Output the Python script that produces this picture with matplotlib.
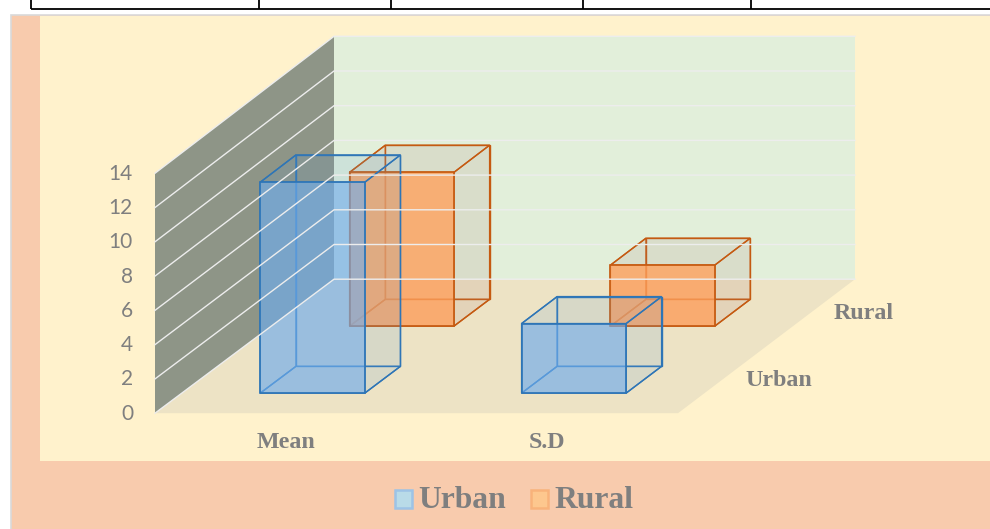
import matplotlib
matplotlib.use("Agg")
import matplotlib.pyplot as plt
from matplotlib.patches import Polygon, Rectangle

categories = ["Mean", "S.D"]
series_names = ["Urban", "Rural"]
urban_values = [12.28, 4.05]
rural_values = [8.9, 3.53]
y_ticks = [0, 2, 4, 6, 8, 10, 12, 14]
table_columns = [31, 259, 391, 583, 751]

GREY = "#7F7F7F"
BAR_WIDTH = 0.4
BAR_DEPTH = 0.2


# oblique view of the chart box: category, depth (0 front, 1 back), value -> pixels
def project(cat, depth, val):
    x = 155 + 261.5 * cat + (179 - cat) * depth
    y = 413.2 - 134 * depth - val * (17.14 + 0.21 * depth)
    return (x, y)


def face(ax, points, **kwargs):
    ax.add_patch(Polygon([project(*p) for p in points], closed=True, **kwargs))


def draw_bar(ax, idx, series_idx, val, style):
    x0 = idx + 0.5 - BAR_WIDTH / 2
    x1 = idx + 0.5 + BAR_WIDTH / 2
    d0 = 0.25 + 0.5 * series_idx - BAR_DEPTH / 2
    d1 = d0 + BAR_DEPTH
    edge = style["edge"]
    back = [(x0, d1, 0), (x1, d1, 0), (x1, d1, val), (x0, d1, val)]
    bottom = [(x0, d0, 0), (x1, d0, 0), (x1, d1, 0), (x0, d1, 0)]
    left = [(x0, d0, 0), (x0, d1, 0), (x0, d1, val), (x0, d0, val)]
    right = [(x1, d0, 0), (x1, d1, 0), (x1, d1, val), (x1, d0, val)]
    top = [(x0, d0, val), (x1, d0, val), (x1, d1, val), (x0, d1, val)]
    front = [(x0, d0, 0), (x1, d0, 0), (x1, d0, val), (x0, d0, val)]
    for pts in [back, bottom, left]:
        face(ax, pts, facecolor="none", edgecolor=edge, lw=1.0, joinstyle="miter")
    for pts in [right, top]:
        face(ax, pts, facecolor=style["side"], edgecolor="none", alpha=0.15)
        face(ax, pts, facecolor="none", edgecolor=edge, lw=1.0, joinstyle="miter")
    face(ax, front, facecolor=style["front"], edgecolor="none", alpha=style["alpha"])
    face(ax, front, facecolor="none", edgecolor=edge, lw=1.2, joinstyle="miter")


urban_style = dict(front="#6FACEC", alpha=0.66, side="#5B9BD5", edge="#2E75B6")
rural_style = dict(front="#FD9E5B", alpha=0.8, side="#AA7875", edge="#C55A11")

fig = plt.figure(figsize=(9.9, 5.29), dpi=100)
ax = fig.add_axes([0, 0, 1, 1])
ax.set_xlim(0, 990)
ax.set_ylim(529, 0)
ax.axis("off")

# table remains above the chart
ax.plot([31, 990], [8.6, 8.6], color="black", lw=1.3, solid_capstyle="butt")
for x in table_columns:
    ax.plot([x, x], [0, 9], color="black", lw=1.3, solid_capstyle="butt")

# chart and plot backgrounds
ax.add_patch(Rectangle((11, 15), 985, 520, facecolor="#F8CBAD", edgecolor="#D9D9D9", lw=1.2))
ax.add_patch(Rectangle((40, 16), 950, 445, facecolor="#FFF2CC", edgecolor="none"))

# walls and floor
n = len(categories)
face(ax, [(0, 1, 0), (n, 1, 0), (n, 1, 14), (0, 1, 14)], facecolor="#E2EFDA", edgecolor="none")
face(ax, [(0, 0, 0), (n, 0, 0), (n, 1, 0), (0, 1, 0)], facecolor="#EDE3C5", edgecolor="none")
face(ax, [(0, 0, 0), (0, 1, 0), (0, 1, 14), (0, 0, 14)], facecolor="#8E9587", edgecolor="none")

for v in y_ticks:
    a = project(0, 0, v)
    b = project(0, 1, v)
    c = project(n, 1, v)
    ax.plot([a[0], b[0], c[0]], [a[1], b[1], c[1]], color="#EDEDED", lw=1.0, solid_joinstyle="miter")
    ax.text(a[0] - 22, a[1] + 0.5, str(v), ha="right", va="center", family="Lato", fontsize=15, color=GREY)

# rural row sits behind urban
for i, val in enumerate(rural_values):
    draw_bar(ax, i, 1, val, rural_style)
for i, val in enumerate(urban_values):
    draw_bar(ax, i, 0, val, urban_style)

label_font = dict(family="Liberation Serif", fontweight="bold", color=GREY)
for i, name in enumerate(categories):
    x, y = project(i + 0.5, 0, 0)
    ax.text(x, y + 29, name, ha="center", va="center", fontsize=17.3, **label_font)
for i, name in enumerate(series_names):
    x, y = project(n, 0.25 + 0.5 * i, 0)
    ax.text(x + 23, y + 1, name, ha="left", va="center", fontsize=17.3, **label_font)

# legend
legend_colors = [("#B9DBE8", "#9DC3E6"), ("#FDC78E", "#F8B27A")]
legend_x = [395, 531]
for name, (fill, edge), x in zip(series_names, legend_colors, legend_x):
    ax.add_patch(Rectangle((x, 490), 17, 18, facecolor=fill, edgecolor=edge, lw=1.8))
    ax.text(x + 23, 500, name, ha="left", va="center", fontsize=22.8, **label_font)

fig.savefig("out.png", dpi=100)
